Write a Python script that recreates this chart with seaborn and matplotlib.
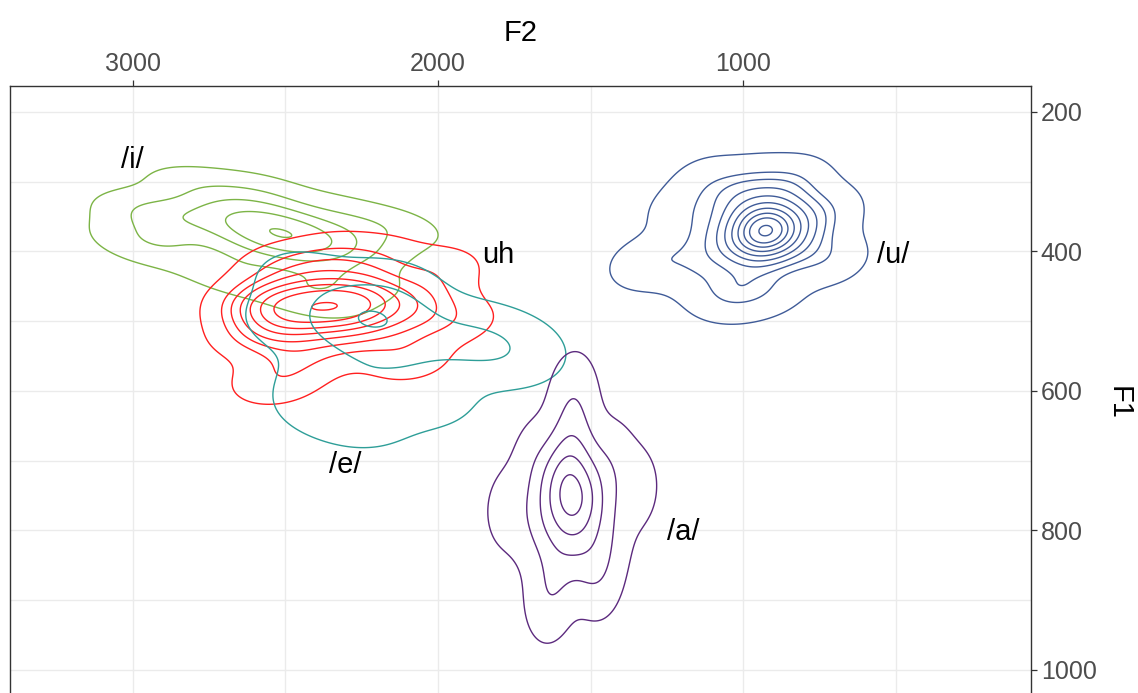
import matplotlib
matplotlib.use("Agg")
import matplotlib.pyplot as plt
from matplotlib.ticker import MultipleLocator
import seaborn as sns
import pandas as pd

# Formant tokens (Hz) for each vowel category
i_F2 = [2520, 2560, 2480, 2600, 2450, 2640, 2500, 2540, 2420, 2680, 2580, 2470, 2495, 2510,
        2780, 2850, 2330, 2280, 2700, 2550, 2650, 2420, 2900, 2250,
        2970, 2960, 2800, 2600, 2350, 2150, 2380, 2700, 2920, 2280, 2400, 2600]
i_F1 = [370, 362, 378, 358, 382, 355, 365, 380, 388, 352, 372, 372, 386, 390,
        350, 365, 385, 395, 330, 335, 395, 410, 345, 370,
        380, 345, 305, 315, 345, 365, 450, 425, 395, 440, 470, 440]

uh_F2 = [2520, 2480, 2440, 2400, 2360, 2320, 2280, 2240, 2200, 2460, 2380, 2300, 2220, 2340,
         2560, 2080, 2500, 2150, 2400, 2250, 2580, 2050, 2480, 2300,
         2600, 2520, 2200, 2000, 1950, 2100, 2540, 2460, 2350, 2600]
uh_F1 = [478, 470, 485, 468, 490, 472, 486, 474, 482, 492, 462, 495, 465, 480,
         465, 485, 505, 515, 435, 445, 490, 465, 525, 530,
         470, 420, 410, 425, 500, 555, 590, 560, 405, 520]

e_F2 = [2233, 2260, 2200, 2240, 2210, 2270, 2180, 2300,
        2150, 2100, 2050, 1950, 1850, 2300, 2280, 2150, 2050, 2320, 1900, 1800,
        2480, 2440, 2380, 2250, 1760, 2050, 2150]
e_F1 = [487, 492, 495, 482, 505, 500, 490, 495,
        515, 505, 520, 530, 540, 530, 590, 580, 570, 580, 520, 535,
        500, 440, 620, 640, 545, 610, 455]

a_F2 = [1560, 1580, 1545, 1595, 1530, 1570, 1555, 1605, 1515, 1620, 1500, 1585,
        1540, 1560, 1545, 1600, 1650, 1470, 1680, 1440, 1620, 1500, 1555, 1680,
        1430, 1640, 1470, 1770, 1350]
a_F1 = [750, 735, 765, 755, 745, 715, 785, 725, 775, 780, 730, 695,
        680, 640, 820, 820, 750, 760, 800, 810, 870, 845, 600, 700,
        700, 905, 870, 770, 740]

u_F2 = [930, 950, 905, 920, 945, 890, 970, 915, 940, 960, 880, 1000, 860, 925,
        900, 1010, 850, 985,
        1050, 800, 1100, 780, 1000, 1150, 870, 1020, 760, 1150,
        1330, 1250, 1080, 900, 720, 700, 950, 1120, 1200, 820, 1000]
u_F1 = [370, 365, 375, 355, 385, 362, 372, 390, 350, 395, 380, 365, 358, 340,
        400, 390, 385, 345,
        330, 340, 400, 410, 440, 430, 310, 310, 370, 370,
        420, 410, 460, 455, 340, 410, 300, 300, 340, 300, 465]

vowels = ["/i/", "uh", "/e/", "/a/", "/u/"]
colors = ["#7CB446", "#FF2020", "#2E9E98", "#5C2A7E", "#3F5B98"]
contour_levels = [
    [0.04, 0.3, 0.55, 0.75, 0.985],
    [0.04, 0.2, 0.33, 0.45, 0.57, 0.68, 0.8, 0.985],
    [0.04, 0.5, 0.97],
    [0.04, 0.3, 0.55, 0.75, 0.92],
    [0.03, 0.25, 0.4, 0.52, 0.62, 0.71, 0.79, 0.86, 0.92, 0.985],
]
label_F2 = [3003, 1803, 2305, 1197, 508]
label_F1 = [269, 405, 706, 802, 405]

frames = [
    pd.DataFrame({"F2": i_F2, "F1": i_F1, "vowel": "/i/"}),
    pd.DataFrame({"F2": uh_F2, "F1": uh_F1, "vowel": "uh"}),
    pd.DataFrame({"F2": e_F2, "F1": e_F1, "vowel": "/e/"}),
    pd.DataFrame({"F2": a_F2, "F1": a_F1, "vowel": "/a/"}),
    pd.DataFrame({"F2": u_F2, "F1": u_F1, "vowel": "/u/"}),
]
df = pd.concat(frames, ignore_index=True)

sns.set_theme(style="white")
plt.rcParams["font.family"] = ["Liberation Sans", "DejaVu Sans"]

fig = plt.figure(figsize=(11.38, 6.93), dpi=100)
ax = fig.add_axes([10 / 1138, 1 - 720 / 693, 1021 / 1138, (720 - 86) / 693])
ax.set_facecolor("white")

for v, c, lv in zip(vowels, colors, contour_levels):
    sub = df[df["vowel"] == v]
    sns.kdeplot(data=sub, x="F2", y="F1", levels=lv, color=c,
                linewidths=1.0, ax=ax)

for v, x, y in zip(vowels, label_F2, label_F1):
    ax.text(x, y, v, fontsize=21, ha="center", va="center", color="black")

ax.set_xlim(3403, 56)
ax.set_ylim(1072, 163)

ax.xaxis.set_major_locator(MultipleLocator(1000))
ax.xaxis.set_minor_locator(MultipleLocator(500))
ax.yaxis.set_major_locator(MultipleLocator(200))
ax.yaxis.set_minor_locator(MultipleLocator(100))
ax.grid(True, which="both", color="#EBEBEB", linewidth=1.0)
ax.set_axisbelow(True)

ax.xaxis.tick_top()
ax.xaxis.set_label_position("top")
ax.yaxis.tick_right()
ax.yaxis.set_label_position("right")
ax.tick_params(axis="both", which="major", length=4, width=0.9, color="#333333",
               labelsize=18, labelcolor="#4D4D4D", pad=3)
ax.tick_params(axis="both", which="minor", length=0)
ax.set_xlabel("F2", fontsize=21, labelpad=8, color="black")
ax.set_ylabel("F1", fontsize=21, rotation=270, labelpad=26, color="black")

for s in ax.spines.values():
    s.set_color("#333333")
    s.set_linewidth(1.0)

fig.savefig("out.png", dpi=100)
